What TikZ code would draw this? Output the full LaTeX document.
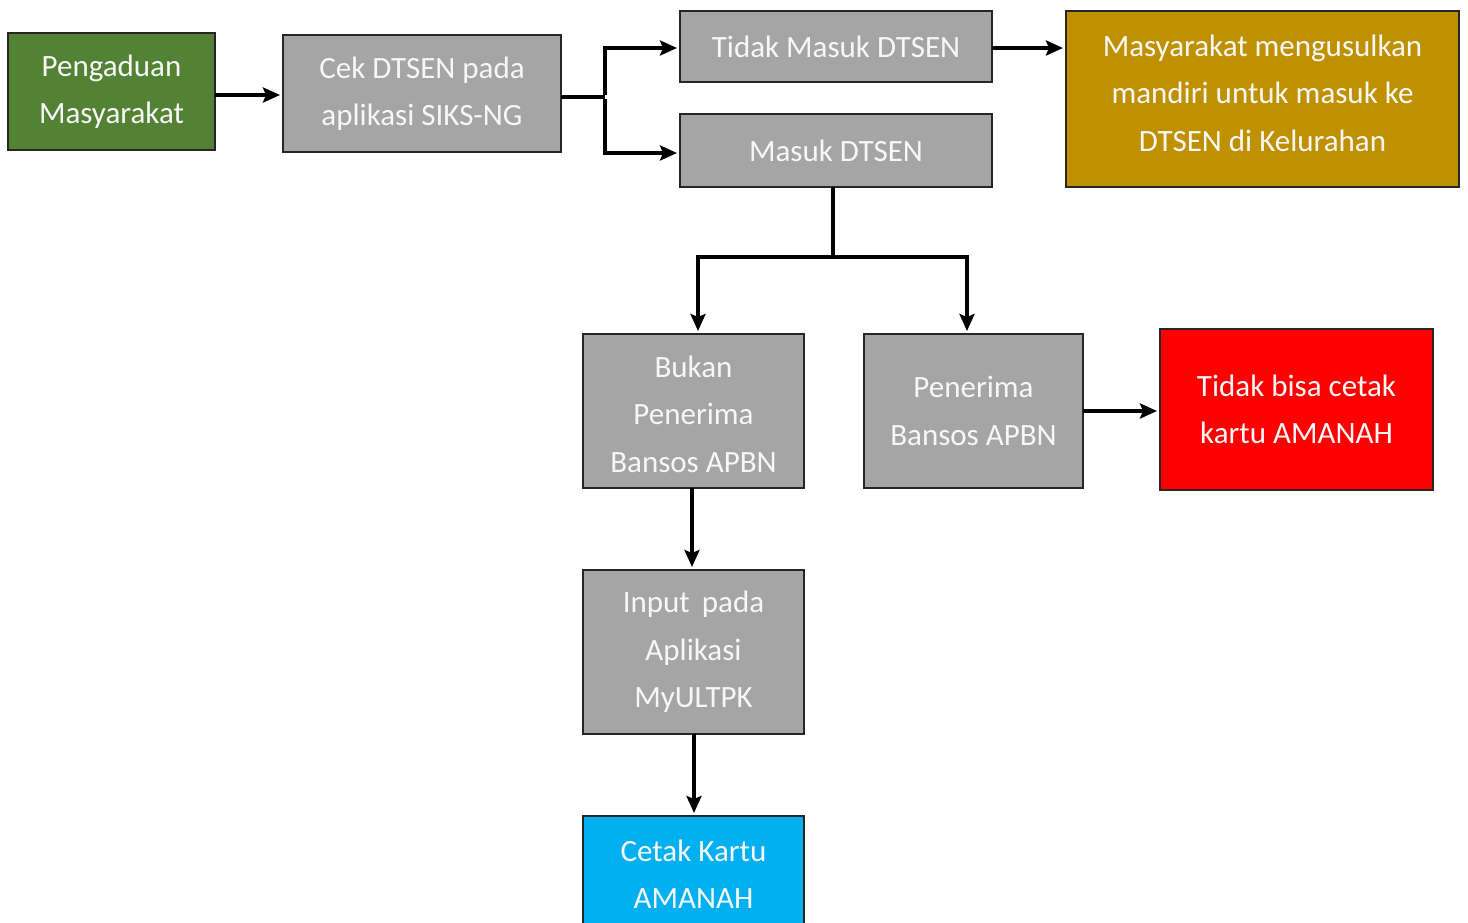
\documentclass[tikz,border=0pt]{standalone}
\usepackage{fontspec}
\setmainfont{Carlito}
\usetikzlibrary{arrows.meta,calc}
\definecolor{cgreen}{HTML}{548235}
\definecolor{cgray}{HTML}{A5A5A5}
\definecolor{cgold}{HTML}{BF9000}
\definecolor{cred}{HTML}{FF0000}
\definecolor{cblue}{HTML}{00B0F0}
\definecolor{cborder}{HTML}{262626}
\definecolor{ctext}{HTML}{F7F7F7}
\tikzset{
  box/.style={draw=cborder, line width=1.6pt, rectangle, inner sep=0pt, outer sep=0pt,
    align=center, text=ctext, font=\fontsize{31}{47.5}\selectfont},
  txt/.style={align=center, text=ctext, font=\fontsize{31}{47.5}\selectfont},
  arr/.style={line width=3.5pt, -{Stealth[length=17pt,width=15pt,inset=3pt]}, shorten >=3pt},
  ln/.style={line width=3.5pt}
}
\begin{document}
\begin{tikzpicture}[x=1pt,y=1pt]
\useasboundingbox (0,0) rectangle (1468,-922);
\node[box, fill=cgreen, minimum width=207pt, minimum height=117pt] (peng) at (111.5,-91.5) {Pengaduan\\Masyarakat};
\node[box, fill=cgray, minimum width=278pt, minimum height=117pt] (cek) at (422,-93.5) {Cek DTSEN pada\\aplikasi SIKS-NG};
\node[box, fill=cgray, minimum width=312pt, minimum height=71pt] (tidak) at (836,-46.5) {Tidak Masuk DTSEN};
\node[box, fill=cgray, minimum width=312pt, minimum height=73pt] (masuk) at (836,-150.5) {Masuk DTSEN};
\node[box, fill=cgold, minimum width=393pt, minimum height=176pt] (usul) at (1262.5,-99) {};
\node[txt] (usultxt) at (1262.5,-93) {Masyarakat mengusulkan\\mandiri untuk masuk ke\\DTSEN di Kelurahan};
\node[box, fill=cgray, minimum width=221pt, minimum height=154pt] (bukan) at (693.5,-411) {};
\node[txt] (bukantxt) at (693.5,-414) {Bukan\\Penerima\\Bansos APBN};
\node[box, fill=cgray, minimum width=219pt, minimum height=154pt] (pen) at (973.5,-411) {Penerima\\Bansos APBN};
\node[box, fill=cred, minimum width=273pt, minimum height=161pt] (tbc) at (1296.5,-409.5) {Tidak bisa cetak\\kartu AMANAH};
\node[box, fill=cgray, minimum width=221pt, minimum height=164pt] (input) at (693.5,-652) {Input\, pada\\Aplikasi\\MyULTPK};
\node[box, fill=cblue, minimum width=221pt, minimum height=124pt] (cetak) at (693.5,-878) {};
\node[txt] (cetaktxt) at (693.5,-874) {Cetak Kartu\\AMANAH};
% connectors
\draw[arr] (peng.east |- 0,-95) -- (cek.west |- 0,-95);
\draw[ln] (cek.east |- 0,-97) -- (605,-97) coordinate (sp);
\draw[arr] ([yshift=1.75pt]sp) |- (tidak.west |- 0,-48);
\draw[arr] ([yshift=-1.75pt]sp) |- (masuk.west |- 0,-153);
\draw[arr] (tidak.east |- 0,-48) -- (usul.west |- 0,-48);
\coordinate (j) at (833,-257);
\draw[ln] (masuk.south -| j) -- ([yshift=-1.75pt]j);
\draw[arr] ([xshift=1.75pt]j) -| ([xshift=4.5pt]bukan.north);
\draw[arr] ([xshift=-1.75pt]j) -| ([xshift=-6.5pt]pen.north);
\draw[arr] (pen.east) -- (tbc.west |- pen.east);
\draw[arr] ([xshift=-1.5pt]bukan.south) -- ([xshift=-1.5pt]input.north);
\draw[arr] ([xshift=0.5pt]input.south) -- ([xshift=0.5pt]cetak.north);
\end{tikzpicture}
\end{document}
